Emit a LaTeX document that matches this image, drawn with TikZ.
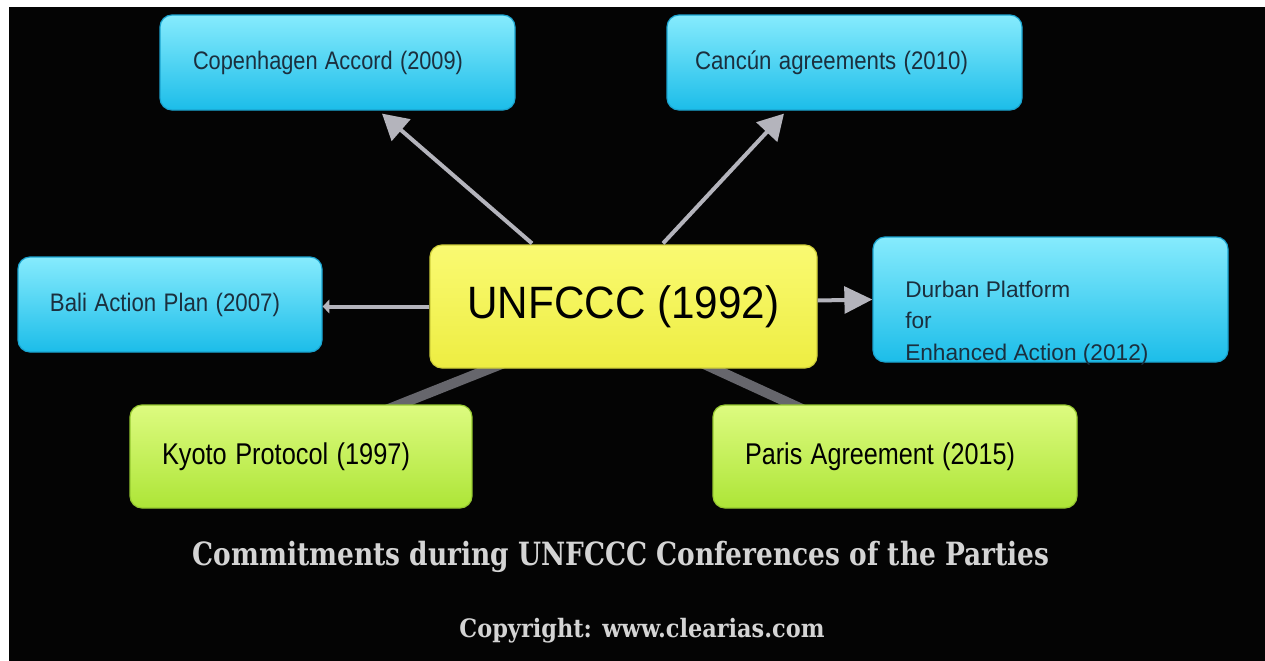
\documentclass[tikz,border=0pt]{standalone}
\usepackage{fontspec}
\setmainfont{Liberation Sans}
\newfontfamily\slabfont{DejaVu Serif}
\usetikzlibrary{arrows.meta,calc}
\definecolor{bgblack}{HTML}{040404}
\definecolor{cyanT}{HTML}{86EBFD}
\definecolor{cyanB}{HTML}{1CBDE9}
\definecolor{cyanEdge}{HTML}{1AA3CF}
\definecolor{yelT}{HTML}{FAFA72}
\definecolor{yelB}{HTML}{EDED42}
\definecolor{yelEdge}{HTML}{CFCF3A}
\definecolor{grnT}{HTML}{DDFB80}
\definecolor{grnB}{HTML}{ADE537}
\definecolor{grnEdge}{HTML}{95C830}
\definecolor{bluetext}{HTML}{1B2F3E}
\definecolor{arrowgray}{HTML}{B4B4BC}
\definecolor{thickgray}{HTML}{66666C}
\definecolor{captiongray}{HTML}{D4D4D4}
\newcommand\fitto[2]{\resizebox{#1}{\height}{#2}}
\pgfdeclarelayer{back}
\pgfdeclarelayer{links}
\pgfsetlayers{back,links,main}
\tikzset{
  boxbase/.style={rounded corners=9pt, line width=0.9pt, inner xsep=0pt, inner ysep=0pt, align=left},
  bluebox/.style={boxbase, draw=cyanEdge, top color=cyanT, bottom color=cyanB, text=bluetext, font=\fontsize{19}{22}\selectfont},
  greenbox/.style={boxbase, draw=grnEdge, top color=grnT, bottom color=grnB, text=black, font=\fontsize{22.5}{26}\selectfont},
  yellowbox/.style={boxbase, draw=yelEdge, top color=yelT, bottom color=yelB, text=black, align=center, font=\fontsize{34}{38}\selectfont},
  ar/.style={draw=arrowgray, line width=3pt, -{Triangle[length=19pt,width=21pt]}},
  thicklink/.style={draw=thickgray, line width=7.5pt, shorten <=-12pt, shorten >=-12pt},
  caption/.style={text=captiongray, inner sep=0pt}
}
\begin{document}
\begin{tikzpicture}[x=0.75pt,y=-0.75pt]
\useasboundingbox (0,0) rectangle (1265,661);
\begin{pgfonlayer}{back}
\fill[white] (0,0) rectangle (1265,661);
\fill[bgblack] (9,7) rectangle (1265,661);
\end{pgfonlayer}

% boxes
\node[bluebox, minimum width=266.25pt, minimum height=71.25pt, text width=216.75pt] (cop) at (337.5,62.5) {\fitto{202.5pt}{Copenhagen Accord (2009)}};
\node[bluebox, minimum width=266.25pt, minimum height=71.25pt, text width=224.25pt] (can) at (844.5,62.5) {\fitto{204.75pt}{Canc\'un agreements (2010)}};
\node[bluebox, minimum width=228pt, minimum height=71.25pt, text width=180pt] (bali) at (170,304.5) {\fitto{172.5pt}{Bali Action Plan (2007)}};
\node[yellowbox, minimum width=290.25pt, minimum height=92.25pt] (u) at (623.5,306.5) {\fitto{234pt}{UNFCCC (1992)}};
\node[bluebox, minimum width=266.25pt, minimum height=93.75pt] (dur) at (1050.5,299.5) {};
\node[anchor=west, inner sep=0pt, align=left, text=bluetext, font=\fontsize{17}{23.8}\selectfont] (durtext) at (905,323) {Durban Platform\\for\\Enhanced Action (2012)};
\node[greenbox, minimum width=256.5pt, minimum height=77.25pt, text width=208.5pt] (kyo) at (301,456.5) {\fitto{186pt}{Kyoto Protocol (1997)}};
\node[greenbox, minimum width=273pt, minimum height=77.25pt, text width=225pt] (par) at (895,456.5) {\fitto{202.5pt}{Paris Agreement (2015)}};

% connectors
\begin{pgfonlayer}{links}
\draw[thicklink] ($(u.south)+(-133.5,0)$) -- ($(kyo.north)+(99,0)$);
\draw[thicklink] ($(u.south)+(90.5,0)$) -- ($(par.north)+(-103,0)$);
\end{pgfonlayer}
\draw[ar] ($(u.north)+(-91.5,-1)$) -- ($(cop.south)+(44.5,3)$);
\draw[ar] ($(u.north)+(39.5,-1)$) -- ($(can.south)+(-60.5,3)$);
\draw[ar, -{Triangle[length=21pt,width=20pt]}] ($(u.east)+(0,-6)$) -- ($(dur.west)+(0,0)$);
\draw[draw=arrowgray, line width=3pt, -{Triangle[length=5pt,width=10pt]}] (u.west) -- (u.west -| bali.east);

% captions
\node[caption, font=\slabfont\bfseries\fontsize{24}{28}\selectfont] (title) at (621,557) {\fitto{642.75pt}{Commitments during UNFCCC Conferences of the Parties}};
\node[caption, font=\slabfont\bfseries\fontsize{19}{22}\selectfont] (copy) at (642,631) {\fitto{273.75pt}{Copyright: www.clearias.com}};
\end{tikzpicture}
\end{document}
